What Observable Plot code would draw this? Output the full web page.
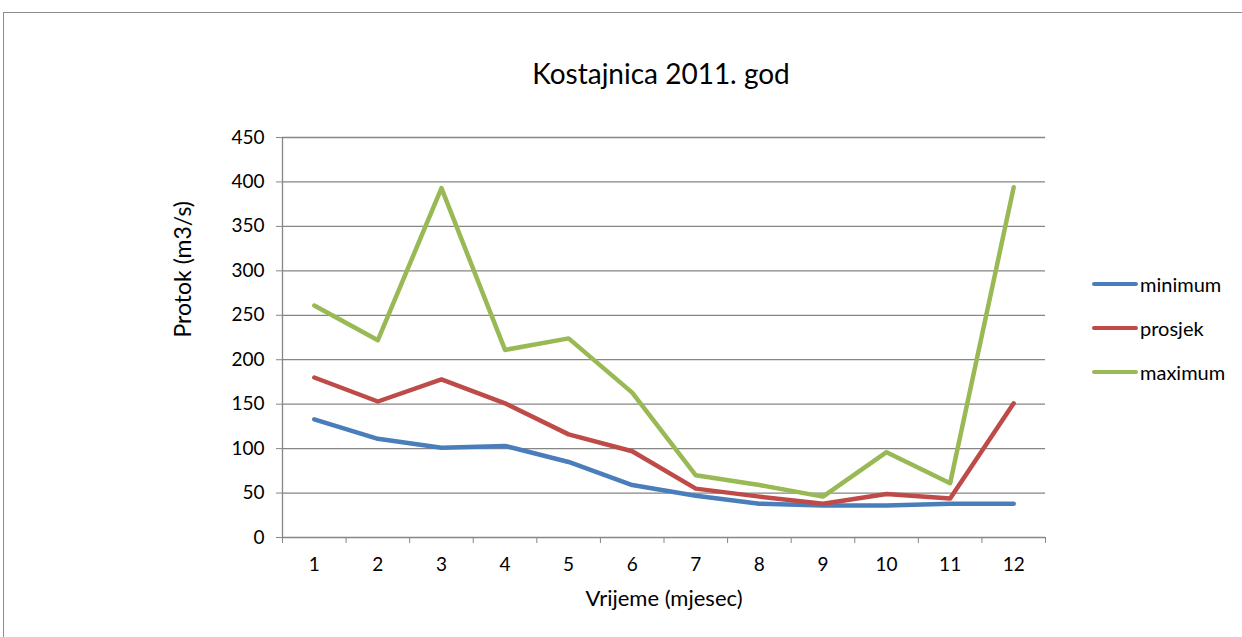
<!DOCTYPE html>
<html><head><meta charset="utf-8">
<script src="https://cdn.jsdelivr.net/npm/d3@7"></script>
<script src="https://cdn.jsdelivr.net/npm/@observablehq/plot@0.6"></script>
<style>
html,body{margin:0;padding:0;background:#fff;}
#wrap{position:relative;width:1242px;height:637px;overflow:hidden;font-family:Lato,"Open Sans",sans-serif;color:#000;}
#frame{position:absolute;left:3px;top:12px;width:1300px;height:700px;border:1.5px solid #8c8c8c;box-sizing:border-box;}
#title{position:absolute;left:0;width:1322px;top:56px;text-align:center;font-size:28px;}
#legend{position:absolute;left:1092px;top:262px;font-size:20px;}
.li{display:flex;align-items:center;height:44px;}
.sw{width:46px;height:4px;border-radius:2px;margin-right:2px;}
#chart{position:absolute;left:0;top:0;}
</style></head>
<body><div id="wrap"><div id="frame"></div><div id="chart"></div><div id="title">Kostajnica 2011. god</div><div id="legend"></div></div>
<script>
const months = [1,2,3,4,5,6,7,8,9,10,11,12];
const minimum = [133,111,101,103,85,59,47,38,36,36,38,38];
const prosjek = [180,153,178,151,116,97,55,46,38,49,44,151];
const maximum = [261,222,393,211,224,163,70,59,46,96,61,394];
const seriesNames = ["minimum","prosjek","maximum"];
const seriesColors = ["#4A7EBB","#BE4B48","#98B954"];
const yTicks = [0,50,100,150,200,250,300,350,400,450];

const seriesVals = [minimum, prosjek, maximum];
const data = seriesNames.flatMap((s,i)=>months.map((m,j)=>({month:m, value:seriesVals[i][j], series:s})));
const boundaries = d3.range(0.5, 13, 1);

const plot = Plot.plot({
  width:1242, height:637,
  marginLeft:282, marginRight:197, marginTop:137, marginBottom:100,
  style:{fontFamily:"Lato, 'Open Sans', sans-serif", fontSize:"19px", color:"#000", background:"transparent"},
  x:{domain:[0.5,12.5]},
  y:{domain:[0,450]},
  color:{domain:seriesNames, range:seriesColors},
  marks:[
    Plot.ruleY(yTicks.filter(d=>d>0), {stroke:"#868686", strokeWidth:1.3, strokeOpacity:1}),
    Plot.ruleX([0.5], {stroke:"#868686", strokeWidth:1.3}),
    Plot.ruleY([0], {stroke:"#868686", strokeWidth:1.3}),
    Plot.axisY({ticks:yTicks, tickSize:6, tickPadding:12, stroke:"#868686", fontSize:19, label:null}),
    Plot.axisX({ticks:boundaries, tickSize:6, tickFormat:()=>"", stroke:"#868686", label:null}),
    Plot.axisX({ticks:months, tickSize:0, tickPadding:20, fontSize:19, label:null, tickFormat:d=>String(d)}),
    Plot.line(data, {x:"month", y:"value", z:"series", stroke:"series", strokeWidth:4.5, strokeLinejoin:"round", strokeLinecap:"round"}),
    Plot.text(["Protok (m3/s)"], {frameAnchor:"left", dx:-99, rotate:-90, fontSize:23, text:d=>d}),
    Plot.text(["Vrijeme (mjesec)"], {frameAnchor:"bottom", dy:68, fontSize:22, text:d=>d})
  ]
});
document.getElementById("chart").appendChild(plot);

const leg = document.getElementById("legend");
seriesNames.forEach((s,i)=>{
  const row=document.createElement("div");row.className="li";
  row.innerHTML=`<span class="sw" style="background:${seriesColors[i]}"></span><span>${s}</span>`;
  leg.appendChild(row);
});
</script></body></html>
